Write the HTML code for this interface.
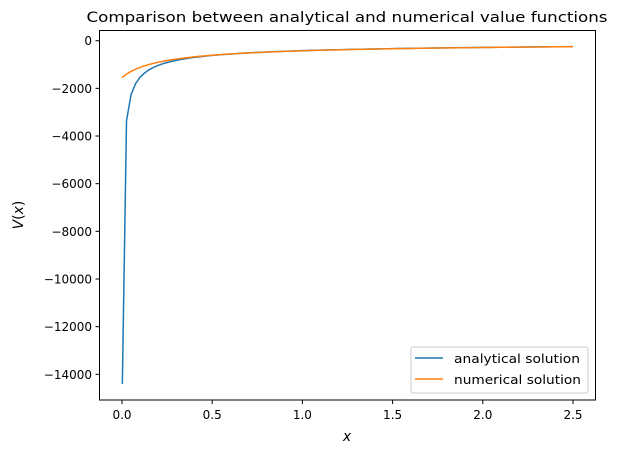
<!DOCTYPE html>
<html><head><meta charset="utf-8"><style>body{margin:0;background:#fff}svg{display:block}text{font-family:"DejaVu Sans","Liberation Sans",sans-serif;fill:#000}</style></head>
<body>
<svg width="618" height="454" xmlns="http://www.w3.org/2000/svg">
<rect width="618" height="454" fill="#fff"/>
<text x="347" y="22" font-size="14.4" text-anchor="middle" textLength="521" lengthAdjust="spacingAndGlyphs">Comparison between analytical and numerical value functions</text>
<g id="plot"></g>
<rect x="99.5" y="30.5" width="496" height="369.5" fill="none" stroke="#000" stroke-width="1"/>
<g id="ticks" font-size="12"></g>
<text x="347" y="441" font-size="14" font-style="italic" text-anchor="middle">x</text>
<text transform="translate(23,215) rotate(-90)" font-size="14" text-anchor="middle"><tspan font-style="italic">V</tspan>(<tspan font-style="italic">x</tspan>)</text>
<rect x="411" y="347" width="177" height="46" rx="2" fill="#fff" fill-opacity="0.8" stroke="#ccc"/>
<line x1="415" y1="358" x2="443" y2="358" stroke="#1f77b4" stroke-width="1.5"/>
<line x1="415" y1="379" x2="443" y2="379" stroke="#ff7f0e" stroke-width="1.5"/>
<text x="454" y="363" font-size="12" textLength="126" lengthAdjust="spacingAndGlyphs">analytical solution</text>
<text x="454" y="384" font-size="12" textLength="127" lengthAdjust="spacingAndGlyphs">numerical solution</text>
</svg>
<script>
const px=x=>122+x*180.4, py=v=>40.7-v*0.02383;
const g=document.getElementById('plot'),t=document.getElementById('ticks');
const ns='http://www.w3.org/2000/svg';
function line(pts,c){const p=document.createElementNS(ns,'polyline');p.setAttribute('points',pts.map(q=>px(q[0]).toFixed(2)+','+py(q[1]).toFixed(2)).join(' '));p.setAttribute('fill','none');p.setAttribute('stroke',c);p.setAttribute('stroke-width','1.5');g.appendChild(p);}
let a=[[0.0019,-14400]];for(let i=1;i<=100;i++){const x=i*0.025;a.push([x,-418*Math.pow(x,-0.565)]);}
let b=[];for(let i=0;i<=100;i++){const x=i*0.025;b.push([x,-464*Math.pow(x+0.15,-0.636)]);}
line(a,'#1f77b4');line(b,'#ff7f0e');
function el(n,at,txt){const e=document.createElementNS(ns,n);for(const k in at)e.setAttribute(k,at[k]);if(txt)e.textContent=txt;t.appendChild(e);}
for(const x of [0,0.5,1,1.5,2,2.5]){const X=px(x);el('line',{x1:X,x2:X,y1:400,y2:404,stroke:'#000'});el('text',{x:X,y:419,'text-anchor':'middle'},x.toFixed(1));}
for(let v=0;v>=-14000;v-=2000){const Y=py(v);el('line',{x1:95.5,x2:99.5,y1:Y,y2:Y,stroke:'#000'});el('text',{x:92,y:Y+4.5,'text-anchor':'end'},v==0?'0':'\u2212'+(-v));}
</script>
</body></html>
